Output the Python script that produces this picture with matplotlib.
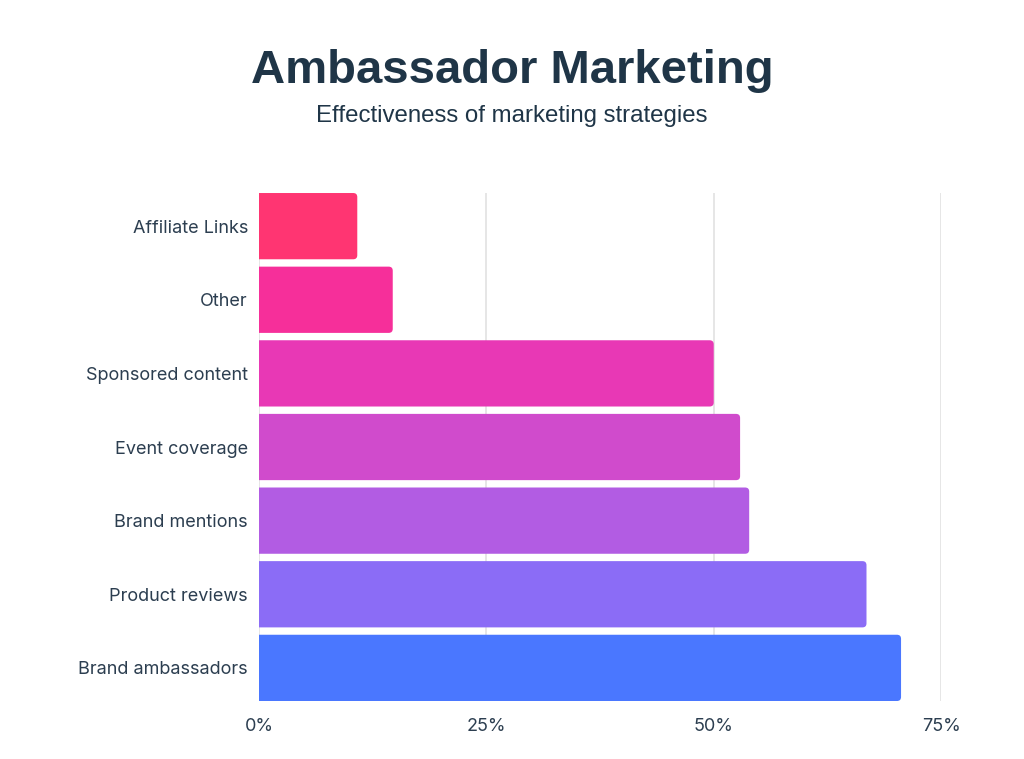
import matplotlib
matplotlib.use("Agg")
import matplotlib.pyplot as plt
from matplotlib.patches import FancyBboxPatch
from matplotlib.ticker import FuncFormatter

# data
strategies = ["Affiliate Links", "Other", "Sponsored content", "Event coverage",
              "Brand mentions", "Product reviews", "Brand ambassadors"]
values = [10.8, 14.7, 50.0, 52.9, 53.9, 66.8, 70.6]
colors = ["#FF3572", "#F62F9A", "#E838B5", "#D04BCC",
          "#B25CE3", "#8B6CF6", "#4A77FF"]

TXT = "#2C3E50"
TITLE = "#1F3547"

fig = plt.figure(figsize=(10.24, 7.59), dpi=100)
fig.patch.set_facecolor("white")
ax = fig.add_axes([0.253, 0.0764, 0.666, 0.6693])

BAR_H = 0.9
bars = ax.barh(range(len(strategies)), values, height=BAR_H, color="none")

# swap plain bars for rounded ones (left corners hidden past x=0)
RX = 0.45
for b, c in zip(bars, colors):
    x0, y0 = b.get_x(), b.get_y()
    w, h = b.get_width(), b.get_height()
    p = FancyBboxPatch((x0 - 2, y0), w + 2, h,
                       boxstyle=f"round,pad=0,rounding_size={RX}",
                       mutation_aspect=0.122,
                       facecolor=c, edgecolor="none", zorder=3, clip_on=True)
    ax.add_patch(p)
    b.remove()

ax.set_xlim(0, 75)
ax.set_ylim(6.45, -0.45)
ax.set_xticks([0, 25, 50, 75])
ax.xaxis.set_major_formatter(FuncFormatter(lambda v, _: f"{v:.0f}%"))
ax.set_yticks(range(len(strategies)))
ax.set_yticklabels(strategies)

ax.grid(axis="x", color="#E2E2E2", linewidth=1.2, zorder=0)
ax.set_axisbelow(True)
for s in ax.spines.values():
    s.set_visible(False)
ax.tick_params(axis="both", length=0, labelsize=13, labelcolor=TXT)
ax.tick_params(axis="y", pad=8)
ax.tick_params(axis="x", pad=12)
for lbl in ax.get_xticklabels() + ax.get_yticklabels():
    lbl.set_fontfamily("Inter")

fig.text(0.5, 0.906, "Ambassador Marketing", ha="center", va="center",
         fontsize=34, fontweight="bold", color=TITLE, family="Liberation Sans")
fig.text(0.5, 0.847, "Effectiveness of marketing strategies", ha="center",
         va="center", fontsize=17.3, color=TITLE, family="Liberation Sans")

fig.savefig("out.png", dpi=100, facecolor="white")
